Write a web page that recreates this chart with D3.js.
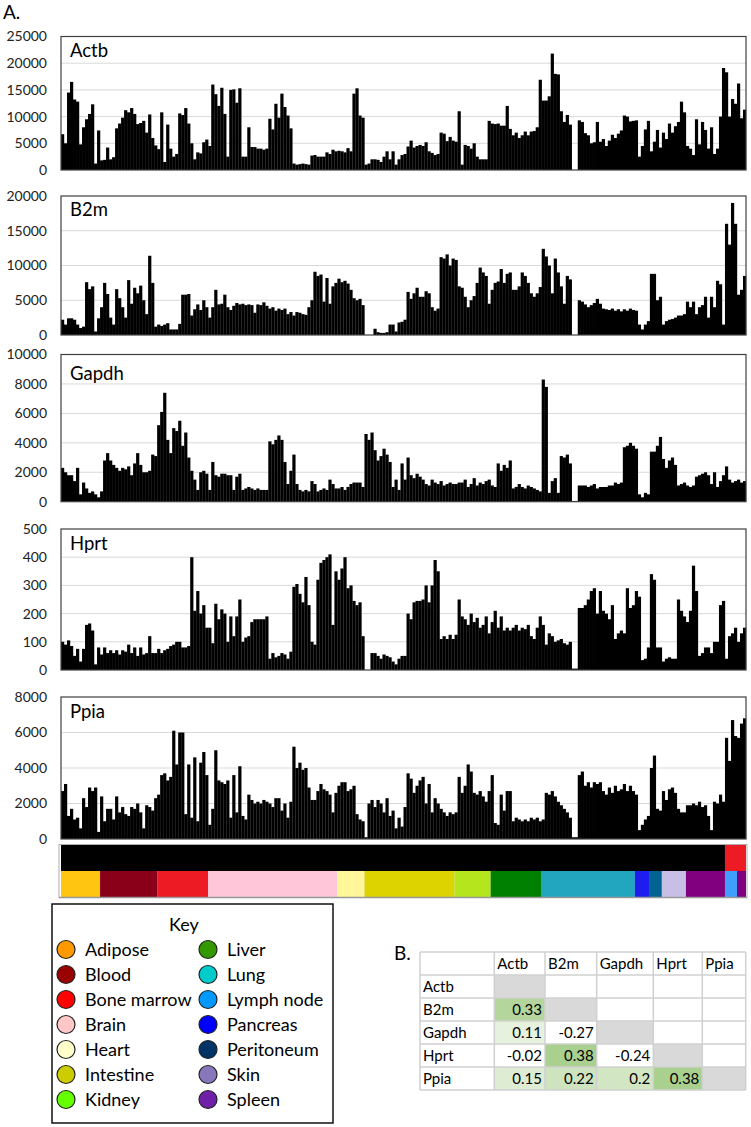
<!DOCTYPE html>
<html>
<head>
<meta charset="utf-8">
<script src="https://cdn.jsdelivr.net/npm/d3@7"></script>
<style>
body { margin: 0; background: #fff; }
</style>
</head>
<body>
<div id="chart"></div>
<script>
// Panel A data: one value per sample, samples ordered by tissue
var genes = ["Actb", "B2m", "Gapdh", "Hprt", "Ppia"];

var actb = [6700,5000,14500,16500,13200,12800,4800,8000,9500,10500,
12300,1200,7400,1800,1900,4200,2000,2400,7800,8700,
9800,11200,10800,11600,10500,8600,8800,9200,7000,10400,
6000,4600,3900,10800,1500,8500,4000,2500,3000,10600,
10300,11600,8700,5000,2000,3300,3100,5200,5700,4500,
16000,14200,12000,15400,10500,2500,15000,15100,12600,15300,
2500,2500,8000,4300,4300,4000,4000,3800,4000,9600,
7600,12400,9800,14300,11800,10200,7800,1200,1000,1100,
1200,1100,1000,2700,2800,2500,2500,2500,3300,3000,
3800,3500,3600,3500,3300,4100,3500,14300,15300,10200,
9800,1000,1200,2000,2000,1900,1500,2500,3500,2000,
3500,1000,2000,2800,3000,4400,5500,4200,4500,4700,
4500,5200,3500,3200,2800,3000,7000,6800,5400,6200,
5500,5300,11000,1000,4700,4500,4000,5000,2500,2000,
2000,2000,9200,8700,8600,8700,8300,8300,12000,7700,
6500,7000,6000,6500,7200,6500,7200,7300,8000,16900,
13000,13000,13800,21800,18000,17900,11000,9000,10300,8500,
0,0,9300,9000,6900,6500,5000,5200,9000,5300,
5800,4500,5500,6600,6000,6800,7400,10200,10000,9100,
9200,9300,2500,4500,7600,9200,3500,5300,7500,4200,
7000,5800,8700,7000,8200,9000,12800,10800,4500,4000,
2800,9500,4800,9000,7500,4000,8000,3000,4000,10000,
19100,18300,10000,13300,12400,16200,9700,11300];

var b2m = [2200,1500,2400,2400,2200,1500,1000,1200,7600,6600,
7000,500,2400,4000,7500,5900,2500,1500,6600,5300,
4000,2500,7900,4500,6800,6000,7100,5000,3000,11400,
7500,1200,1500,1300,1500,1700,800,800,800,1600,
5800,5800,5900,2800,3700,4400,3600,5000,4000,2500,
4000,6500,4400,4500,5800,4000,3600,4200,4600,4400,
4500,4300,4400,4300,3200,4400,4300,4700,4200,3800,
4000,3500,3800,3600,3800,3000,3300,2800,3300,3200,
3000,2900,4000,5000,9100,8500,8700,4800,8200,4500,
7000,7500,8100,7600,7800,7400,6500,5300,5000,5200,
4300,0,0,0,900,400,300,300,400,1500,
1500,500,1800,1900,2200,6200,5200,6000,6800,5500,
5500,6300,6000,4000,3500,3800,11200,11000,11600,10000,
11000,10800,7000,6800,5500,4000,5000,5600,7500,9700,
9000,8500,4500,6500,7500,7700,9500,7500,8800,9000,
6500,6500,7000,9000,8500,7500,6000,5500,6000,6900,
12400,11300,10000,6000,11000,9000,7000,4500,8500,8000,
0,0,5000,4800,4400,4000,4300,4600,5200,4500,
3800,3700,3600,3800,3500,3700,3400,3700,3500,3800,
3600,3500,1500,800,1500,2000,8800,8800,5000,5500,
1500,2000,2200,2300,2500,2800,2800,3000,4800,4000,
4800,3000,4000,4300,5500,2500,5500,4000,7800,7300,
1500,16000,13000,19000,16000,5800,6500,8500];

var gapdh = [2300,2000,1800,1800,1400,2300,500,1300,900,600,
700,500,300,700,2800,3300,2800,2500,2300,2100,
2300,2200,2400,1800,2600,3300,2500,2000,2000,2100,
3200,3100,5200,6100,7400,4200,3300,5000,4800,5500,
3800,4700,3000,2100,1500,800,2000,2100,1900,800,
2700,1800,1700,1900,1900,1800,1800,800,1700,1900,
800,900,1000,900,800,900,800,800,800,4100,
3900,4200,4500,4200,2700,1200,2100,3200,1200,800,
700,800,700,1400,1200,700,800,900,800,1500,
1200,900,900,1000,800,1000,1200,1300,1300,1300,
1000,4600,4200,4700,3500,2800,3100,3600,3200,2700,
1000,1500,800,2600,1500,3000,1800,1600,1900,1700,
1500,1200,1100,1500,1300,1200,1400,1100,1200,1300,
1200,1200,1300,1300,1500,1000,1200,1600,1100,1300,
1200,1400,1500,1100,1000,2600,2100,2500,2300,2800,
900,1000,1200,1000,900,1100,1000,900,800,700,
8300,7800,600,1400,1600,600,3100,3000,3200,2600,
50,50,1100,1100,1100,1000,1100,1200,900,1000,
1000,1000,1100,1100,1300,1200,1300,3700,3800,4000,
3800,3600,500,300,600,500,3400,3400,3800,4400,
2900,2300,2800,3000,2500,1100,1200,1300,1100,1000,
1100,1700,1800,1900,2000,1800,1200,2000,1000,1400,
1800,2400,1500,1300,1400,1500,1300,1400];

var hprt = [100,90,105,85,50,75,30,75,160,165,
140,20,80,55,80,60,70,60,70,55,
70,65,90,60,80,50,80,55,60,120,
60,60,75,60,70,75,85,90,100,100,
80,80,85,400,210,280,200,230,150,150,
95,235,180,215,200,100,190,120,190,250,
100,115,120,170,180,180,180,180,190,40,
60,45,50,60,55,40,65,295,305,270,
240,330,230,100,90,320,380,390,400,410,
160,350,320,360,400,290,300,245,230,240,
120,0,0,60,60,50,40,55,50,45,
30,20,40,50,50,200,180,240,245,245,
250,300,240,300,390,350,110,120,110,125,
110,125,250,190,180,160,200,170,185,150,
160,190,130,170,210,150,190,140,150,140,
150,160,140,150,145,160,120,110,150,190,
160,90,130,120,100,105,110,95,90,100,
5,5,220,220,230,250,280,290,200,280,
210,200,180,230,110,130,140,130,290,220,
230,280,260,35,40,80,340,320,80,80,
30,40,45,40,40,250,210,190,170,210,
370,280,50,60,80,80,60,100,100,230,
245,40,120,130,150,100,130,150];

var ppia = [2700,3100,1300,1700,1100,1200,600,2300,1800,2900,
2700,2900,400,2400,1000,1700,1700,1100,2400,1500,
1800,1400,1300,1800,1700,2000,1500,600,1900,1800,
1600,2300,2500,3600,3700,3300,3500,6100,4200,6000,
6000,1400,4200,1200,4600,1000,4300,4900,3600,800,
1700,5000,3300,3200,3100,3300,1200,3600,1500,4100,
1300,1100,2500,2200,2000,2100,2000,2200,2100,2000,
1800,2300,2300,1600,2000,1200,2100,5200,4000,4300,
3900,4000,2900,2200,2200,2700,3100,2800,2700,2500,
1500,2600,3000,3200,3200,2700,2800,3000,1400,1100,
1000,100,2000,2200,1800,2200,2000,1500,2300,1300,
1600,600,1200,700,1800,3700,3400,2600,3000,3300,
3500,2000,3100,1500,2300,2000,1700,1500,1300,1500,
1400,1500,3500,2600,3000,4200,3800,2600,2500,2700,
2400,2100,2700,3600,900,800,2500,1600,2700,2700,
1000,1200,1100,1000,1100,1000,1200,1100,1200,1000,
1100,2600,2500,2700,2400,2100,1900,1700,1500,1200,
100,100,3600,3800,3000,3200,2900,3200,3100,3200,
2700,2500,2900,2600,3000,2700,2800,3100,2700,3000,
2700,2500,500,800,1100,1300,4000,4700,1700,1600,
2700,2200,2800,2900,2600,1700,1500,1500,1900,1900,
2000,1900,2100,1800,1900,1300,500,2100,2000,2500,
2100,5700,4400,6700,5800,5700,6500,6800];

var yMax = [25000, 20000, 10000, 500, 8000];
var yStep = [5000, 5000, 2000, 100, 2000];

// Sample annotation strips (number of samples per block, left to right)
var groupNames = ["Other", "Red"];
var groupCounts = [221, 7];
var stripTissues = ["Adipose","Blood","Bone marrow","Brain","Heart","Intestine","Kidney","Liver",
	"Lung","Pancreas","Peritoneum","Skin","Spleen","Lymph node","Spleen"];
var stripCounts = [13,19,17,43,9,30,12,17,31,5,4,8,13,4,3];

// Key
var tissues = ["Adipose","Blood","Bone marrow","Brain","Heart","Intestine","Kidney",
	"Liver","Lung","Lymph node","Pancreas","Peritoneum","Skin","Spleen"];

// Panel B: correlation matrix (lower triangle)
var corrRows = [[], [0.33], [0.11, -0.27], [-0.02, 0.38, -0.24], [0.15, 0.22, 0.2, 0.38]];

//Layout and styles
var w = 751, h = 1127;
var left = 61, right = 746;
var panelTop = [36.5, 196, 354.5, 529, 697];
var panelBottom = [170, 335, 501.7, 670, 839];
var titleDy = [20, 20, 25.5, 21, 21];
var font = "Lato, 'Open Sans', sans-serif";

var stripColor = {
	"Adipose": "#ffc511", "Blood": "#8a0019", "Bone marrow": "#ed1c24", "Brain": "#ffc6d9",
	"Heart": "#fff79a", "Intestine": "#dcd300", "Kidney": "#b5e61d", "Liver": "#008000",
	"Lung": "#22a5bf", "Lymph node": "#3f9fff", "Pancreas": "#1d1df0", "Peritoneum": "#006391",
	"Skin": "#c8bfe7", "Spleen": "#800080"
};
var groupColor = { "Other": "#000000", "Red": "#ed1c24" };
var keyColor = {
	"Adipose": "#ff9900", "Blood": "#990000", "Bone marrow": "#ff0000", "Brain": "#ffc7c7",
	"Heart": "#ffffcc", "Intestine": "#cccc00", "Kidney": "#66ff00", "Liver": "#339900",
	"Lung": "#00cccc", "Lymph node": "#0099ff", "Pancreas": "#0000ff", "Peritoneum": "#003366",
	"Skin": "#8877bb", "Spleen": "#7020a8"
};

var series = [actb, b2m, gapdh, hprt, ppia];

var svg = d3.select("#chart")
	.append("svg")
	.attr("width", w)
	.attr("height", h)
	.style("font-family", font);

var xScale = d3.scaleBand()
	.domain(d3.range(actb.length))
	.range([left, right])
	.padding(0);

svg.append("text")
	.attr("x", 3)
	.attr("y", 19)
	.attr("font-size", 19)
	.text("A.");

series.forEach(function (vals, k) {
	var yScale = d3.scaleLinear()
		.domain([0, yMax[k]])
		.range([panelBottom[k], panelTop[k]]);
	var g = svg.append("g");

	//gridlines
	g.selectAll("line.grid")
		.data(d3.range(yStep[k], yMax[k], yStep[k]))
		.enter()
		.append("line")
		.attr("x1", left)
		.attr("x2", right)
		.attr("y1", function (d) { return yScale(d); })
		.attr("y2", function (d) { return yScale(d); })
		.attr("stroke", "#d9d9d9")
		.attr("stroke-width", 1);

	//bars
	g.selectAll("rect.bar")
		.data(vals)
		.enter()
		.append("rect")
		.attr("x", function (d, i) { return xScale(i); })
		.attr("y", function (d) { return yScale(d); })
		.attr("width", xScale.bandwidth() + 0.2)
		.attr("height", function (d) { return panelBottom[k] - yScale(d); })
		.attr("fill", "#000");

	//frame
	g.append("rect")
		.attr("x", left)
		.attr("y", panelTop[k])
		.attr("width", right - left)
		.attr("height", panelBottom[k] - panelTop[k])
		.attr("fill", "none")
		.attr("stroke", "#404040")
		.attr("stroke-width", 1.2);

	//y axis labels
	var ax = g.append("g")
		.attr("transform", "translate(" + left + ",0)")
		.call(d3.axisLeft(yScale)
			.tickValues(d3.range(0, yMax[k] + 1, yStep[k]))
			.tickSize(0)
			.tickPadding(14)
			.tickFormat(d3.format("d")));
	ax.select(".domain").remove();
	ax.attr("font-family", font).attr("font-size", 14);
	ax.selectAll("text").attr("fill", "#222");

	//gene name
	g.append("text")
		.attr("x", 70)
		.attr("y", panelTop[k] + titleDy[k])
		.attr("font-size", 18.5)
		.text(genes[k]);
});

//annotation strips
function drawStrip(names, counts, colors, y0, hh) {
	var start = 0;
	names.forEach(function (nm, i) {
		svg.append("rect")
			.attr("x", xScale(start))
			.attr("y", y0)
			.attr("width", xScale.step() * counts[i])
			.attr("height", hh)
			.attr("fill", colors[nm]);
		start += counts[i];
	});
}
drawStrip(groupNames, groupCounts, groupColor, 845, 26);
drawStrip(stripTissues, stripCounts, stripColor, 871, 26);
svg.append("rect")
	.attr("x", left - 2).attr("y", 844.5)
	.attr("width", right - left + 3).attr("height", 53)
	.attr("fill", "none").attr("stroke", "#999").attr("stroke-width", 0.8);
svg.append("line")
	.attr("x1", left - 2).attr("x2", right + 1)
	.attr("y1", 897.5).attr("y2", 897.5)
	.attr("stroke", "#999").attr("stroke-width", 1.5);

//Key
var key = svg.append("g");
key.append("rect")
	.attr("x", 52).attr("y", 904)
	.attr("width", 281).attr("height", 219)
	.attr("fill", "#fff").attr("stroke", "#111").attr("stroke-width", 1.5);
key.append("text")
	.attr("x", 184).attr("y", 931)
	.attr("text-anchor", "middle")
	.attr("font-size", 18)
	.text("Key");
var items = key.selectAll("g.item")
	.data(tissues)
	.enter()
	.append("g")
	.attr("transform", function (d, i) {
		var col = Math.floor(i / 7), row = i % 7;
		return "translate(" + (66 + col * 142) + "," + (949.5 + row * 25) + ")";
	});
items.append("circle")
	.attr("r", 9)
	.attr("fill", function (d) { return keyColor[d]; })
	.attr("stroke", "#222")
	.attr("stroke-width", 1.2);
items.append("text")
	.attr("x", 19)
	.attr("y", 6)
	.attr("font-size", 18)
	.text(function (d) { return d; });

//Panel B table
svg.append("text")
	.attr("x", 394)
	.attr("y", 960)
	.attr("font-size", 19)
	.text("B.");

var colX = [420, 494.3, 545, 596.7, 653.3, 702.3, 745.7];
var rowY = [952, 975, 998, 1021, 1044, 1067, 1090];
var green = d3.scaleLinear().domain([0, 0.38]).range(["#ffffff", "#a9d08e"]).clamp(true);
var tbl = svg.append("g").attr("font-size", 15);

genes.forEach(function (gname, r) {
	var y0 = rowY[r + 1];
	//diagonal
	tbl.append("rect")
		.attr("x", colX[r + 1]).attr("y", y0)
		.attr("width", colX[r + 2] - colX[r + 1]).attr("height", rowY[r + 2] - y0)
		.attr("fill", "#d9d9d9");
	corrRows[r].forEach(function (v, c) {
		tbl.append("rect")
			.attr("x", colX[c + 1]).attr("y", y0)
			.attr("width", colX[c + 2] - colX[c + 1]).attr("height", rowY[r + 2] - y0)
			.attr("fill", v > 0 ? green(v) : "#fff");
		tbl.append("text")
			.attr("x", colX[c + 2] - 3).attr("y", y0 + 17)
			.attr("text-anchor", "end")
			.text(String(v));
	});
	tbl.append("text")
		.attr("x", colX[0] + 3).attr("y", y0 + 17)
		.text(gname);
	tbl.append("text")
		.attr("x", colX[r + 1] + 3).attr("y", rowY[0] + 17)
		.text(gname);
});
tbl.selectAll("line.h")
	.data(rowY)
	.enter()
	.append("line")
	.attr("x1", colX[0]).attr("x2", colX[colX.length - 1])
	.attr("y1", function (d) { return d; }).attr("y2", function (d) { return d; })
	.attr("stroke", "#d0d0d0").attr("stroke-width", 1.5);
tbl.selectAll("line.v")
	.data(colX)
	.enter()
	.append("line")
	.attr("y1", rowY[0]).attr("y2", rowY[rowY.length - 1])
	.attr("x1", function (d) { return d; }).attr("x2", function (d) { return d; })
	.attr("stroke", "#d0d0d0").attr("stroke-width", 1.5);
</script>
</body>
</html>
